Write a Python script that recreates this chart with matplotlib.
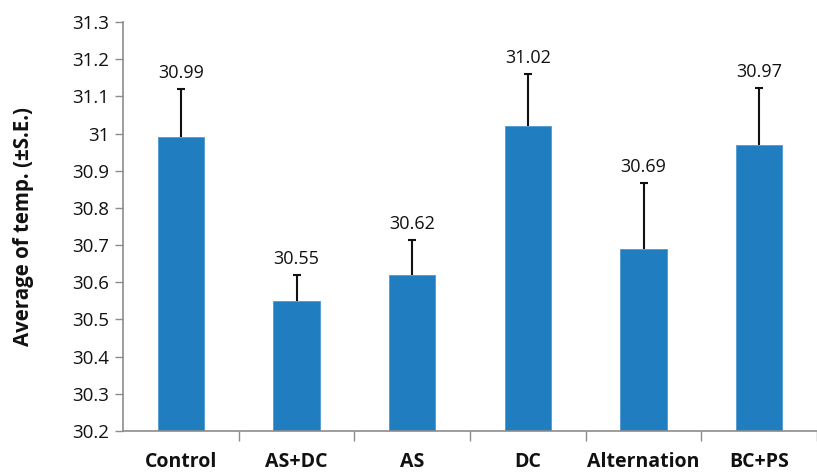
import matplotlib
matplotlib.use("Agg")
import matplotlib.pyplot as plt

# Mean temperature per treatment with standard errors
categories = ["Control", "AS+DC", "AS", "DC", "Alternation", "BC+PS"]
means = [30.99, 30.55, 30.62, 31.02, 30.69, 30.97]
std_err = [0.13, 0.07, 0.095, 0.14, 0.177, 0.153]
y_ticks = [30.2, 30.3, 30.4, 30.5, 30.6, 30.7, 30.8, 30.9, 31.0, 31.1, 31.2, 31.3]
y_tick_labels = ["30.2", "30.3", "30.4", "30.5", "30.6", "30.7", "30.8", "30.9",
                 "31", "31.1", "31.2", "31.3"]

plt.rcParams["font.family"] = ["Open Sans", "DejaVu Sans"]

W, H = 817, 476
fig = plt.figure(figsize=(W / 100, H / 100), dpi=100)
ax = fig.add_axes([123 / W, (H - 431) / H, (W - 123) / W, (431 - 22) / H])

bar_color = "#1f7dc0"
axis_color = "#8c8c8c"
x = list(range(len(categories)))
ax.bar(x, [m - 30.2 for m in means], bottom=30.2, width=0.40,
       color=bar_color, edgecolor="#4f9ad3", linewidth=0.6, zorder=2)

# upper-only error bars: stem from bar top plus a cap at the end
tops = [m + se for m, se in zip(means, std_err)]
ax.vlines(x, means, tops, colors="#111111", linewidth=1.5, zorder=3)
ax.plot(x, tops, linestyle="none", marker="_", markersize=6,
        markeredgewidth=1.5, color="#111111", zorder=3)

for xi, m, t in zip(x, means, tops):
    ax.annotate(f"{m:.2f}", (xi, t), xytext=(0, 5), textcoords="offset points",
                ha="center", va="bottom", fontsize=13, color="#111111")

ax.set_ylim(30.2, 31.3)
ax.set_xlim(-0.5, -0.5 + (W - 123) / 117)
ax.set_yticks(y_ticks)
ax.set_yticklabels(y_tick_labels, fontsize=13.5, color="#111111")
ax.set_xticks(x)
ax.set_xticklabels(categories, fontsize=14, fontweight="bold", color="#111111")
ax.set_xticks([i + 0.5 for i in range(len(categories))], minor=True)

ax.tick_params(axis="x", which="major", length=0, pad=15)
ax.tick_params(axis="x", which="minor", length=7, color=axis_color, width=1)
ax.tick_params(axis="y", length=6, color=axis_color, width=1, pad=4)

for side in ("top", "right"):
    ax.spines[side].set_visible(False)
for side in ("left", "bottom"):
    ax.spines[side].set_color(axis_color)
    ax.spines[side].set_linewidth(1.2)

ax.set_ylabel("Average of temp. (±S.E.)", fontsize=14.8, fontweight="bold",
              color="#111111")
ax.yaxis.set_label_coords(-(123 - 34) / (W - 123), 0.5)

fig.savefig("out.png", dpi=100)
